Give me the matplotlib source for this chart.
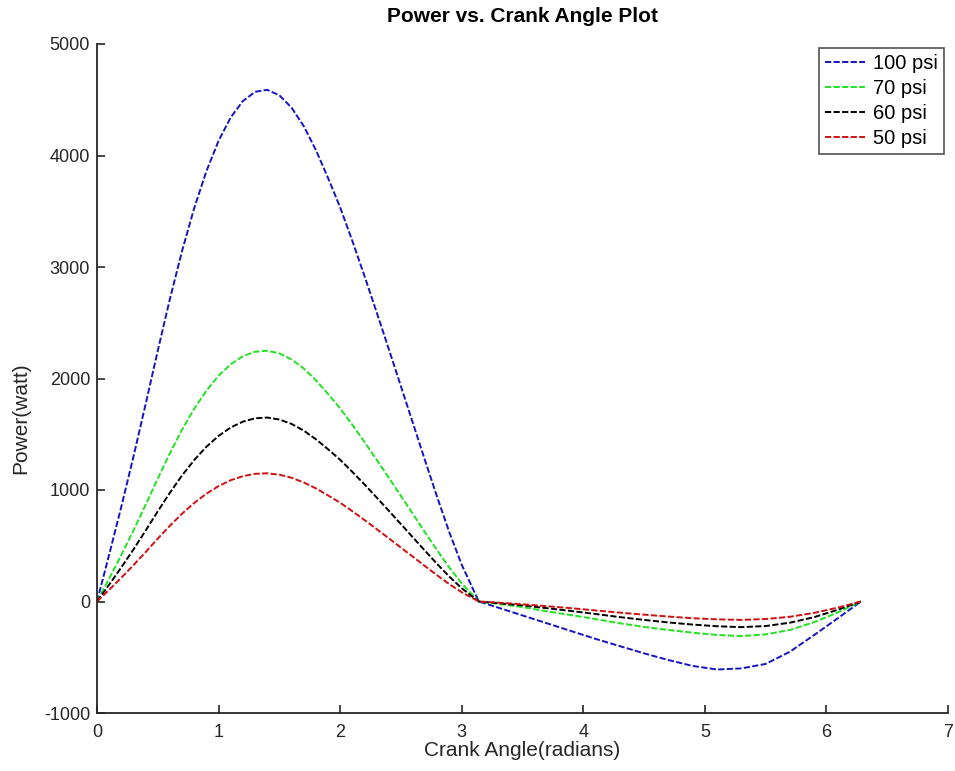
import matplotlib
matplotlib.use("Agg")
import matplotlib.pyplot as plt

plt.rcParams['font.family'] = ['Liberation Sans', 'DejaVu Sans']
plt.rcParams['axes.unicode_minus'] = False

# Crank angle samples (radians)
crank_angle = [0.0, 0.1, 0.2, 0.3, 0.4, 0.5, 0.6, 0.7, 0.8, 0.9,
               1.0, 1.1, 1.2, 1.3, 1.4, 1.5, 1.6, 1.7, 1.8, 1.9,
               2.0, 2.1, 2.2, 2.3, 2.4, 2.5, 2.6, 2.7, 2.8, 2.9,
               3.0, 3.1, 3.1416,
               3.3, 3.5, 3.7, 3.9, 4.1, 4.3, 4.5, 4.7, 4.9, 5.1,
               5.3, 5.5, 5.7, 5.9, 6.1, 6.2832]

# Power (watt) for each supply pressure
power_100 = [0, 420, 850, 1300, 1770, 2250, 2715, 3145, 3530, 3860,
             4132, 4342, 4488, 4571, 4589, 4540, 4430, 4265, 4050, 3800,
             3535, 3235, 2920, 2595, 2265, 1930, 1595, 1260, 930, 615,
             330, 95, 0,
             -55, -125, -195, -265, -335, -400, -465, -525, -578, -610,
             -600, -560, -450, -300, -145, 0]

power_70 = [0, 206, 417, 637, 867, 1103, 1330, 1541, 1730, 1891,
            2025, 2128, 2199, 2240, 2249, 2225, 2171, 2090, 1985, 1862,
            1732, 1585, 1431, 1272, 1110, 946, 782, 617, 456, 301,
            162, 47, 0,
            -22, -50, -88, -122, -158, -195, -228, -255, -280, -300,
            -310, -295, -255, -185, -95, 0]

power_60 = [0, 151, 306, 467, 636, 809, 976, 1131, 1269, 1388,
            1485, 1561, 1613, 1643, 1650, 1632, 1593, 1533, 1456, 1366,
            1271, 1163, 1050, 933, 814, 694, 573, 453, 334, 221,
            119, 34, 0,
            -15, -35, -60, -85, -112, -140, -165, -188, -207, -222,
            -230, -220, -190, -140, -72, 0]

power_50 = [0, 105, 213, 326, 443, 564, 680, 788, 884, 967,
            1035, 1088, 1124, 1145, 1150, 1137, 1110, 1068, 1015, 952,
            886, 810, 731, 650, 567, 483, 400, 316, 233, 154,
            83, 24, 0,
            -10, -25, -42, -60, -80, -100, -118, -135, -150, -160,
            -165, -157, -137, -102, -53, 0]

series_labels = ['100 psi', '70 psi', '60 psi', '50 psi']
series_colors = ['#1414c4', '#22e022', '#000000', '#d01010']

x_ticks = [0, 1, 2, 3, 4, 5, 6, 7]
y_ticks = [-1000, 0, 1000, 2000, 3000, 4000, 5000]

fig = plt.figure(figsize=(9.55, 7.71), dpi=100)
ax = fig.add_axes([97/955, 58/771, (948-97)/955, (713-44)/771])

for vals, lab, col in zip([power_100, power_70, power_60, power_50],
                          series_labels, series_colors):
    ax.plot(crank_angle, vals, color=col, lw=1.4, linestyle=(0, (3.2, 1.2)),
            label=lab)

ax.set_xlim(0, 7)
ax.set_ylim(-1000, 5000)
ax.set_xticks(x_ticks)
ax.set_yticks(y_ticks)
ax.tick_params(direction='in', length=6, width=1.2, labelsize=13,
               colors='#262626')
ax.tick_params(axis='x', pad=8)
ax.tick_params(axis='y', pad=5)
for s in ['top', 'right']:
    ax.spines[s].set_visible(False)
for s in ['left', 'bottom']:
    ax.spines[s].set_linewidth(1.3)
    ax.spines[s].set_color('#262626')

ax.set_xlabel('Crank Angle(radians)', fontsize=15, color='#262626', labelpad=0)
ax.set_ylabel('Power(watt)', fontsize=15, color='#262626')
ax.yaxis.set_label_coords(-0.079, 0.44)
ax.set_title('Power vs. Crank Angle Plot', fontsize=15, fontweight='bold',
             pad=16)

leg = ax.legend(loc='upper right', fontsize=14.5, frameon=True, fancybox=False,
                edgecolor='#262626', borderaxespad=0.2, handlelength=2.0,
                handletextpad=0.4, labelspacing=0.3, borderpad=0.3)
leg.get_frame().set_linewidth(1.2)

fig.savefig('out.png', dpi=100)
